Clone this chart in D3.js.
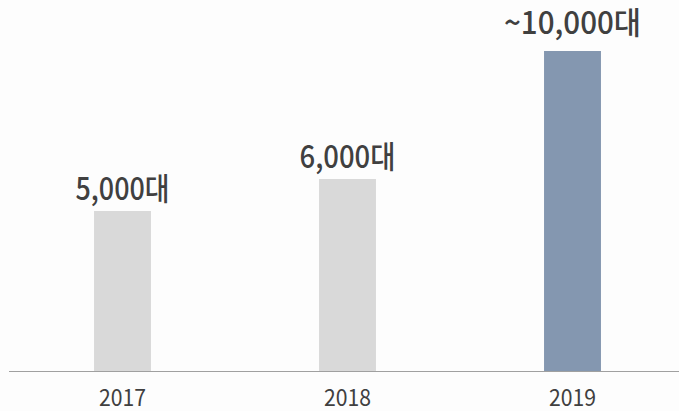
<!DOCTYPE html>
<meta charset="utf-8">
<style>
body { margin: 0; background: #fdfdfd; }
svg { display: block; }
.value { font-family: "Noto Sans CJK KR", "Noto Sans", sans-serif; font-weight: 500; fill: #404040; }
.year { font-family: "Noto Sans CJK KR", "Noto Sans", sans-serif; font-weight: 400; fill: #404040; }
</style>
<svg width="679" height="411"></svg>
<script src="https://d3js.org/d3.v7.min.js"></script>
<script>

var years = ["2017", "2018", "2019"];
var units = [5000, 6000, 10000];
var labels = ["5,000대", "6,000대", "~10,000대"];
var colors = ["#d9d9d9", "#d9d9d9", "#8497b0"];

var svg = d3.select("svg"),
    width = +svg.attr("width"),
    height = +svg.attr("height");

var baseY = 371;

var x = d3.scaleBand()
    .domain(years)
    .range([10, 685])
    .paddingInner(0.747)
    .paddingOuter(0.3735);

var y = d3.scaleLinear()
    .domain([0, 10000])
    .range([baseY, 51]);

svg.append("g")
  .selectAll("rect")
  .data(years)
  .enter().append("rect")
    .attr("x", function(d) { return x(d); })
    .attr("y", function(d, i) { return y(units[i]); })
    .attr("width", x.bandwidth())
    .attr("height", function(d, i) { return baseY - y(units[i]); })
    .attr("fill", function(d, i) { return colors[i]; });

svg.append("line")
    .attr("x1", 9).attr("x2", width)
    .attr("y1", baseY + 0.5).attr("y2", baseY + 0.5)
    .attr("stroke", "#a0a0a0")
    .attr("stroke-width", 1.2);

// label widths / gaps above bar
var lw = [94, 96, 137];
var gap = [11, 11, 17];
svg.append("g")
  .selectAll("text")
  .data(years)
  .enter().append("text")
    .attr("class", "value")
    .attr("x", function(d) { return x(d) + x.bandwidth() / 2; })
    .attr("y", function(d, i) { return y(units[i]) - gap[i]; })
    .attr("text-anchor", "middle")
    .attr("font-size", 31)
    .attr("textLength", function(d, i) { return lw[i]; })
    .attr("lengthAdjust", "spacingAndGlyphs")
    .text(function(d, i) { return labels[i]; });

svg.append("g")
  .selectAll("text")
  .data(years)
  .enter().append("text")
    .attr("class", "year")
    .attr("x", function(d) { return x(d) + x.bandwidth() / 2; })
    .attr("y", 406)
    .attr("text-anchor", "middle")
    .attr("font-size", 23)
    .attr("textLength", 47)
    .attr("lengthAdjust", "spacingAndGlyphs")
    .text(function(d) { return d; });

</script>
